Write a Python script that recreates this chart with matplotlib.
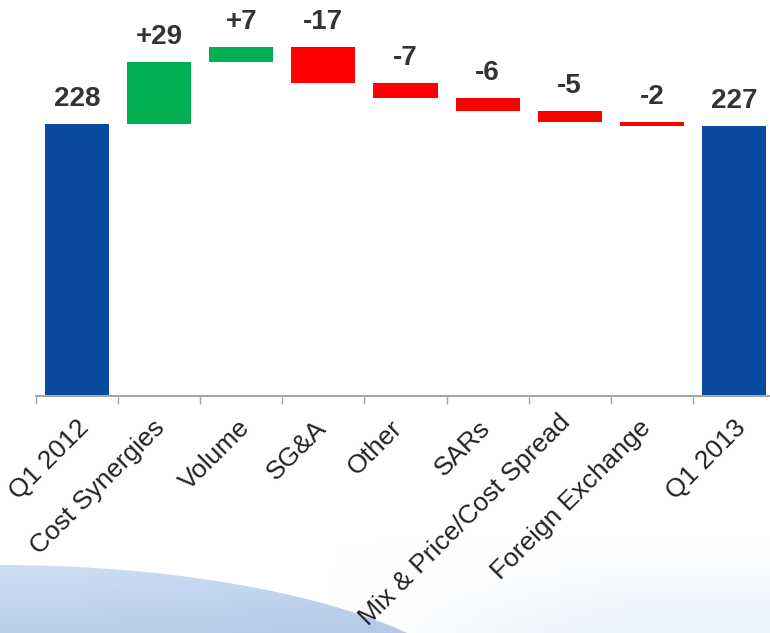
import matplotlib
matplotlib.use('Agg')
import matplotlib.pyplot as plt
import matplotlib.transforms as mtransforms
import numpy as np
from matplotlib.patches import Ellipse
from matplotlib.ticker import FixedLocator

plt.rcParams['font.family'] = ['Liberation Sans', 'DejaVu Sans']

# Q1 2012 -> Q1 2013 bridge
categories = ['Q1 2012', 'Cost Synergies', 'Volume', 'SG&A', 'Other', 'SARs',
              'Mix & Price/Cost Spread', 'Foreign Exchange', 'Q1 2013']
start_value = 228
changes = [29, 7, -17, -7, -6, -5, -2]
end_value = 227

BLUE = '#0b4a9e'
GREEN = '#00b050'
RED = '#ff0000'
TEXT = '#333333'

# (dx, dy) nudges in px for the rotated category labels
label_nudge = {'Q1 2012': (0, 0), 'Cost Synergies': (-7, 0), 'Volume': (-4, 0),
               'SG&A': (-9, 0), 'Other': (-16, 0), 'SARs': (-10, 0),
               'Mix & Price/Cost Spread': (-12, 5), 'Foreign Exchange': (-13, 0),
               'Q1 2013': (0, 0)}

# build bar bottoms / heights for the waterfall
bottoms, heights, colors, labels = [0], [start_value], [BLUE], [str(start_value)]
running = start_value
for c in changes:
    bottoms.append(running if c >= 0 else running + c)
    heights.append(abs(c))
    colors.append(GREEN if c >= 0 else RED)
    labels.append(f'{c:+d}' if c >= 0 else str(c))
    running += c
bottoms.append(0)
heights.append(end_value)
colors.append(BLUE)
labels.append(str(end_value))

fig = plt.figure(figsize=(7.7, 6.33), dpi=100)

# background: faint wash on the lower right, light blue swoosh lower left
bg = fig.add_axes([0, 0, 1, 1], zorder=-1)
bg.set_xlim(0, 770)
bg.set_ylim(633, 0)
bg.axis('off')
yy, xx = np.mgrid[0:633, 0:770]

wash = np.ones((633, 770, 4))
wash[..., :3] = [0.90, 0.94, 0.98]
wash[..., 3] = np.clip((yy - 540) / 93.0, 0, 1) * np.clip((xx - 330) / 300.0, 0, 1) * 0.8
bg.imshow(wash, extent=[0, 770, 633, 0], aspect='auto', interpolation='bilinear')

t = np.clip((yy - 565) / 68.0, 0, 1)
s = np.clip(xx / 400.0, 0, 1)
c0 = np.array([0.85, 0.90, 0.965])
c1 = np.array([0.70, 0.79, 0.91])
mix = np.clip(0.25 + 0.55 * t + 0.2 * s, 0, 1)[..., None]
grad = c0 * (1 - mix) + c1 * mix
img = bg.imshow(grad, extent=[0, 770, 633, 0], aspect='auto', interpolation='bilinear')
swoosh = Ellipse((0, 727), width=1000, height=324, transform=bg.transData,
                 facecolor='none', edgecolor='none')
bg.add_patch(swoosh)
img.set_clip_path(swoosh)

ax = fig.add_axes([36 / 770, 1 - 396 / 633, (775 - 36) / 770, 396 / 633])
ax.set_facecolor('none')
x = np.arange(len(categories))
ax.bar(x, heights, bottom=bottoms, width=0.78, color=colors, zorder=2)

ax.set_xlim(-0.5, len(categories) - 0.5)
ax.set_ylim(101, 286)

for xi, b, h, lab in zip(x, bottoms, heights, labels):
    ax.annotate(lab, (xi, b + h), xytext=(0, 13), textcoords='offset points',
                ha='center', va='baseline', fontsize=20, fontweight='bold',
                color=TEXT)

for side in ['left', 'right', 'top']:
    ax.spines[side].set_visible(False)
ax.spines['bottom'].set_color('#a6a6a6')
ax.spines['bottom'].set_linewidth(1.5)
ax.yaxis.set_visible(False)

ax.set_xticks(x)
ax.set_xticklabels(categories, rotation=45, ha='right', rotation_mode='anchor',
                   fontsize=19, color='#222222')
ax.tick_params(axis='x', which='major', length=0, pad=14)
ax.xaxis.set_minor_locator(FixedLocator(np.arange(-0.5, len(categories) - 0.5)))
ax.tick_params(axis='x', which='minor', length=6, width=1, color='#a6a6a6')

for lbl, name in zip(ax.get_xticklabels(), categories):
    dx, dy = label_nudge[name]
    shift = mtransforms.ScaledTranslation(dx / 100, dy / 100, fig.dpi_scale_trans)
    lbl.set_transform(lbl.get_transform() + shift)

fig.savefig('out.png', dpi=100)
